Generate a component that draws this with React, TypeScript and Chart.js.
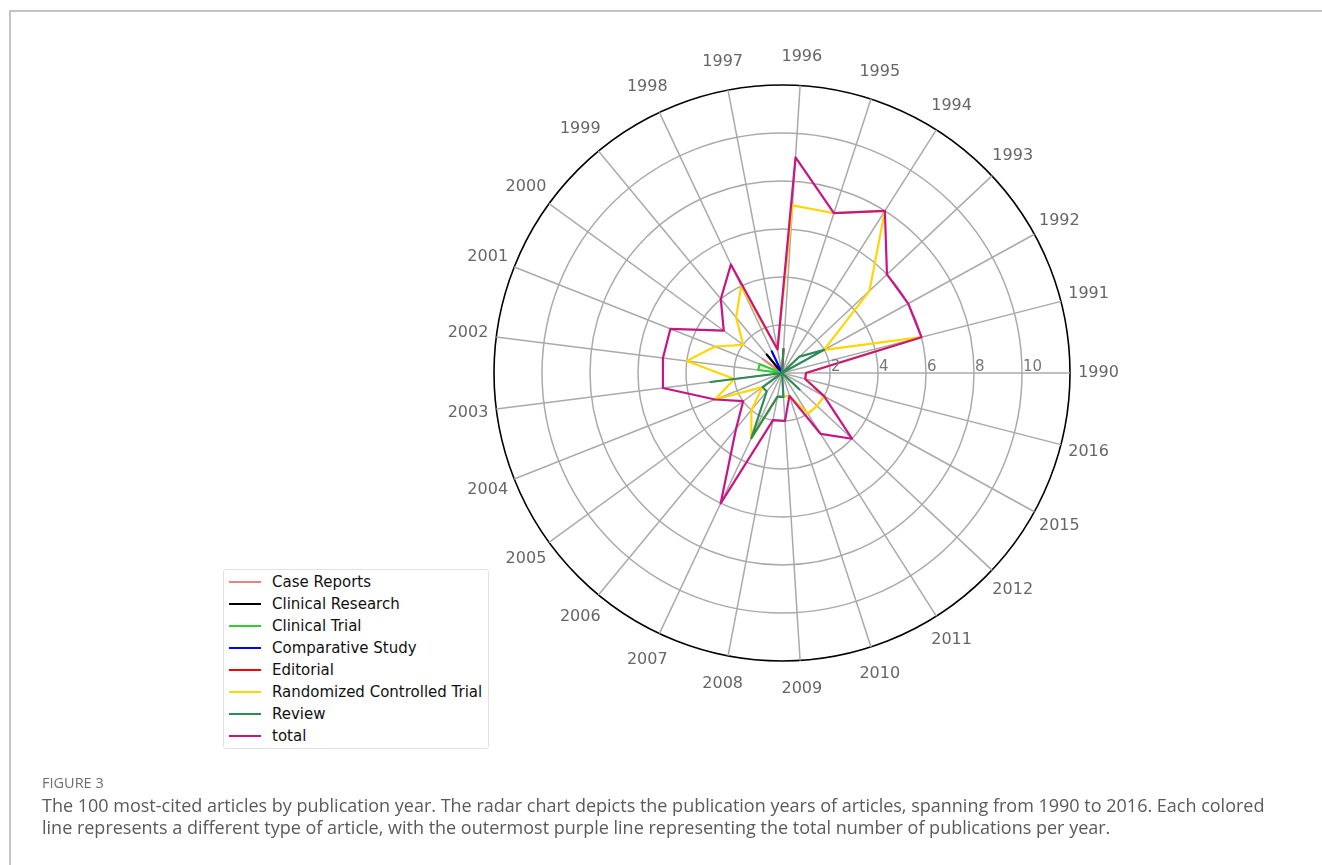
import React, { useEffect, useRef } from 'react';
import { Chart, registerables } from 'chart.js';

Chart.register(...registerables);

// Publication years (angular categories, counter-clockwise from the east)
const years = ['1990', '1991', '1992', '1993', '1994', '1995', '1996', '1997', '1998', '1999', '2000', '2001', '2002', '2003', '2004', '2005', '2006', '2007', '2008', '2009', '2010', '2011', '2012', '2015', '2016'];

// Counts per article type, in the same order as `years`
const caseReports      = [0, 0, 0, 0, 0, 0, 0, 0, 0, 0, 1, 0, 0, 0, 0, 0, 0, 0, 0, 0, 0, 0, 0, 0, 0];
const clinicalResearch = [0, 0, 0, 0, 0, 0, 0, 0, 0, 1, 0, 0, 0, 0, 0, 0, 0, 0, 0, 0, 0, 0, 0, 0, 0];
const clinicalTrial    = [0, 0, 0, 0, 0, 0, 0, 0, 0, 0, 0, 1, 1, 0, 0, 0, 0, 0, 0, 0, 0, 0, 0, 0, 0];
const comparativeStudy = [0, 0, 0, 0, 0, 0, 0, 0, 1, 0, 0, 0, 0, 0, 0, 0, 0, 0, 0, 0, 0, 0, 0, 0, 0];
const editorial        = [0, 0, 0, 0, 0, 0, 1, 0, 0, 0, 0, 0, 0, 0, 0, 0, 0, 0, 0, 0, 0, 0, 0, 0, 0];
const rct              = [1, 6, 2, 5, 8, 7, 7, 1, 4, 3, 2, 3, 4, 2, 3, 1, 2, 3, 1, 1, 1, 2, 2, 2, 1];
const review           = [0, 0, 2, 1, 0, 0, 1, 0, 0, 0, 0, 0, 0, 3, 0, 1, 1, 3, 1, 1, 0, 0, 1, 0, 0];
const total            = [1, 6, 6, 6, 8, 7, 9, 1, 5, 4, 3, 5, 5, 5, 3, 2, 3, 6, 2, 2, 1, 3, 4, 2, 1];

const seriesNames = ['Case Reports', 'Clinical Research', 'Clinical Trial', 'Comparative Study', 'Editorial', 'Randomized Controlled Trial', 'Review', 'total'];
const seriesColors = ['#f08080', '#000000', '#32cd32', '#0000ff', '#ff0000', '#ffd700', '#2e8b57', '#c71585'];

const radialTicks = [2, 4, 6, 8, 10];
const radialMax = 12;

const captionTitle = 'FIGURE 3';
const captionLine1 = 'The 100 most-cited articles by publication year. The radar chart depicts the publication years of articles, spanning from 1990 to 2016. Each colored';
const captionLine2 = 'line represents a different type of article, with the outermost purple line representing the total number of publications per year.';

export default function App() {
  const canvasRef = useRef<HTMLCanvasElement | null>(null);

  useEffect(() => {
    const canvas = canvasRef.current;
    if (!canvas) return;
    const n = years.length;
    // Chart.js goes clockwise; reverse the order so that years run counter-clockwise.
    const idx = years.map((_, k) => (n - k) % n);
    const labels = idx.map((i) => years[i]);
    const series = [caseReports, clinicalResearch, clinicalTrial, comparativeStudy, editorial, rct, review, total];

    const datasets = series.map((vals, s) => ({
      label: seriesNames[s],
      data: idx.map((i) => vals[i]),
      borderColor: seriesColors[s],
      backgroundColor: seriesColors[s],
      borderWidth: 2.2,
      pointRadius: 0,
      pointHoverRadius: 0,
      pointHitRadius: 0,
      fill: false,
      tension: 0,
      borderJoinStyle: 'round' as const,
      borderCapStyle: 'round' as const,
      order: series.length - 1 - s,
    }));

    const labelPlugin = {
      id: 'polarLabels',
      afterDraw(chart: any) {
        const scale = chart.scales.r;
        const ctx = chart.ctx as CanvasRenderingContext2D;
        ctx.save();
        ctx.font = '16px "DejaVu Sans"';
        ctx.fillStyle = '#666666';
        ctx.textAlign = 'center';
        ctx.textBaseline = 'middle';
        labels.forEach((lab, i) => {
          const p = scale.getPointPosition(i, scale.drawingArea + 28.5);
          ctx.fillText(lab, p.x, p.y);
        });
        ctx.font = '15px "DejaVu Sans"';
        ctx.fillStyle = '#777777';
        ctx.textAlign = 'left';
        ctx.textBaseline = 'alphabetic';
        radialTicks.forEach((v) => {
          const d = scale.getDistanceFromCenterForValue(v);
          ctx.fillText(String(v), scale.xCenter + d + 1, scale.yCenter - 2);
        });
        ctx.restore();
      },
    };

    const chart = new Chart(canvas, {
      type: 'radar',
      data: { labels, datasets },
      options: {
        responsive: false,
        animation: false,
        layout: { padding: { left: 494, right: 252, top: 85, bottom: 204 } },
        plugins: { legend: { display: false }, tooltip: { enabled: false } },
        scales: {
          r: {
            min: 0,
            max: radialMax,
            startAngle: 90,
            ticks: { display: false, stepSize: 2 },
            pointLabels: { display: false },
            grid: {
              circular: true,
              color: (c: any) => (c.tick && c.tick.value === radialMax ? '#000000' : '#aaaaaa'),
              lineWidth: (c: any) => (c.tick && c.tick.value === radialMax ? 1.6 : 1.5),
            },
            angleLines: { color: '#aaaaaa', lineWidth: 1.5 },
            afterFit: (scale: any) => {
              const a = scale.chart.chartArea;
              scale.xCenter = (a.left + a.right) / 2;
              scale.yCenter = (a.top + a.bottom) / 2;
              scale.drawingArea = Math.min(a.right - a.left, a.bottom - a.top) / 2;
            },
          } as any,
        },
      },
      plugins: [labelPlugin],
    });
    return () => chart.destroy();
  }, []);

  return (
    <div style={{ position: 'absolute', left: 0, top: 0, width: 1322, height: 865, background: '#ffffff', overflow: 'hidden' }}>
      <div style={{ position: 'absolute', left: 9, top: 10, width: 1330, height: 900, borderTop: '2px solid #c4c4c4', borderLeft: '2px solid #c4c4c4' }} />
      <canvas ref={canvasRef} width={1322} height={865} style={{ position: 'absolute', left: 0, top: 0, width: 1322, height: 865 }} />
      <div style={{ position: 'absolute', left: 223, top: 569, width: 264, height: 178, border: '1px solid #e2e2e2', borderRadius: 3, background: '#ffffff', boxSizing: 'content-box' }}>
        {seriesNames.map((name, i) => (
          <div key={name} style={{ position: 'absolute', left: 0, top: 1 + i * 22, height: 22, width: 264 }}>
            <div style={{ position: 'absolute', left: 5, top: 10, width: 32, height: 2, background: seriesColors[i] }} />
            <div style={{ position: 'absolute', left: 48, top: 0, lineHeight: '22px', fontFamily: '"DejaVu Sans"', fontSize: 15, color: '#111111', whiteSpace: 'nowrap' }}>{name}</div>
          </div>
        ))}
      </div>
      <div style={{ position: 'absolute', left: 42, top: 773, fontFamily: '"Open Sans"', fontSize: 14.5, color: '#6e6e6e', whiteSpace: 'nowrap' }}>{captionTitle}</div>
      <div style={{ position: 'absolute', left: 42, top: 794, fontFamily: '"Open Sans"', fontSize: 18, lineHeight: '22px', color: '#5a5a5a', whiteSpace: 'nowrap' }}>
        <div>{captionLine1}</div>
        <div>{captionLine2}</div>
      </div>
    </div>
  );
}
